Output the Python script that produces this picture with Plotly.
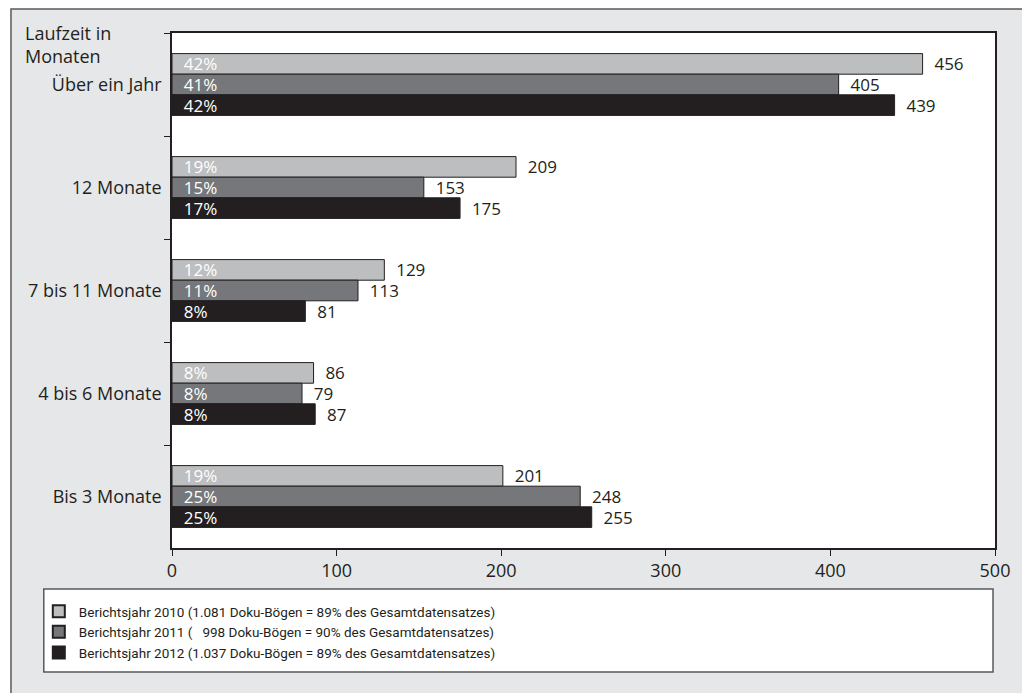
import plotly.graph_objects as go

categories = ["Über ein Jahr", "12 Monate", "7 bis 11 Monate", "4 bis 6 Monate", "Bis 3 Monate"]
series_names = [
    "Berichtsjahr 2010 (1.081 Doku-Bögen = 89% des Gesamtdatensatzes)",
    "Berichtsjahr 2011 (\u00a0\u00a0\u00a0998 Doku-Bögen = 90% des Gesamtdatensatzes)",
    "Berichtsjahr 2012 (1.037 Doku-Bögen = 89% des Gesamtdatensatzes)",
]
values_2010 = [456, 209, 129, 86, 201]
values_2011 = [405, 153, 113, 79, 248]
values_2012 = [439, 175, 81, 87, 255]
pct_2010 = [42, 19, 12, 8, 19]
pct_2011 = [41, 15, 11, 8, 25]
pct_2012 = [42, 17, 8, 8, 25]
x_ticks = [0, 100, 200, 300, 400, 500]

colors = ["#bcbec0", "#76777a", "#231f20"]
dark = "#231f20"
FONT = "Open Sans"
LEGFONT = "Roboto"
FS = 18
BFS = 17

fig = go.Figure()
all_vals = [values_2010, values_2011, values_2012]
all_pct = [pct_2010, pct_2011, pct_2012]
for i in range(3):
    fig.add_trace(go.Bar(
        y=categories, x=all_vals[i], orientation="h", name=series_names[i],
        offsetgroup=str(i), legendgroup=f"g{i}",
        marker=dict(color=colors[i], line=dict(color=dark, width=1)),
        text=["\u00a0\u00a0" + f"{p}%" for p in all_pct[i]],
        textposition="inside", insidetextanchor="start",
        insidetextfont=dict(family=FONT, size=BFS, color="white"),
        constraintext="none", hoverinfo="skip",
    ))
for i in range(3):
    fig.add_trace(go.Bar(
        y=categories, x=all_vals[i], orientation="h", showlegend=False,
        offsetgroup=str(i), legendgroup=f"g{i}",
        marker=dict(color="rgba(0,0,0,0)", line=dict(width=0)),
        text=["\u00a0\u00a0" + str(v) for v in all_vals[i]],
        textposition="outside",
        outsidetextfont=dict(family=FONT, size=BFS, color=dark),
        constraintext="none", cliponaxis=False, hoverinfo="skip",
    ))

L, R, T, B = 172, 22, 33, 145
W, H = 1022, 693
pw, ph = W - L - R, H - T - B

def px(x):
    return (x - L) / pw

def py(y):
    return (H - B - y) / ph

shapes = [
    dict(type="rect", xref="paper", yref="paper", x0=px(10), x1=px(1040), y0=py(720), y1=py(9),
         fillcolor="#e6e7e8", line=dict(color="#58595b", width=1.5), layer="below"),
    dict(type="rect", xref="paper", yref="paper", x0=0, x1=1, y0=0, y1=1,
         fillcolor="white", line=dict(width=0), layer="below"),
    dict(type="rect", xref="paper", yref="paper", x0=px(43), x1=px(998), y0=py(672), y1=py(589),
         fillcolor="white", line=dict(color="#58595b", width=1.5), layer="below"),
]

fig.update_layout(
    width=W, height=H,
    margin=dict(l=L, r=R, t=T, b=B),
    paper_bgcolor="white", plot_bgcolor="white",
    barmode="group", bargap=0.4, bargroupgap=0,
    font=dict(family=FONT, size=FS, color=dark),
    shapes=shapes,
    showlegend=True,
    legend=dict(x=px(38), y=py(596), xanchor="left", yanchor="top",
                bgcolor="rgba(0,0,0,0)", borderwidth=0,
                font=dict(family=LEGFONT, size=13.5, color=dark),
                tracegroupgap=0, itemsizing="constant"),
    annotations=[dict(text="Laufzeit in<br>Monaten", xref="paper", yref="paper",
                      x=px(22), y=py(19), xanchor="left", yanchor="top", align="left",
                      showarrow=False, font=dict(family=FONT, size=FS, color=dark))],
)
fig.update_xaxes(range=[0, 500], tickvals=x_ticks, ticks="outside", ticklen=6, tickcolor=dark,
                 showline=True, linecolor=dark, linewidth=1.5, mirror=True, showgrid=False,
                 zeroline=False, tickfont=dict(family=FONT, size=FS, color=dark))
fig.update_yaxes(categoryorder="array", categoryarray=categories, autorange="reversed",
                 tickson="boundaries", ticks="outside", ticklen=6, tickcolor=dark,
                 ticklabelstandoff=5,
                 showline=True, linecolor=dark, linewidth=1.5, mirror=True, showgrid=False,
                 tickfont=dict(family=FONT, size=FS, color=dark))

fig.write_html("out.html", config={"displayModeBar": False},
               post_script="document.body.style.margin='0';")
